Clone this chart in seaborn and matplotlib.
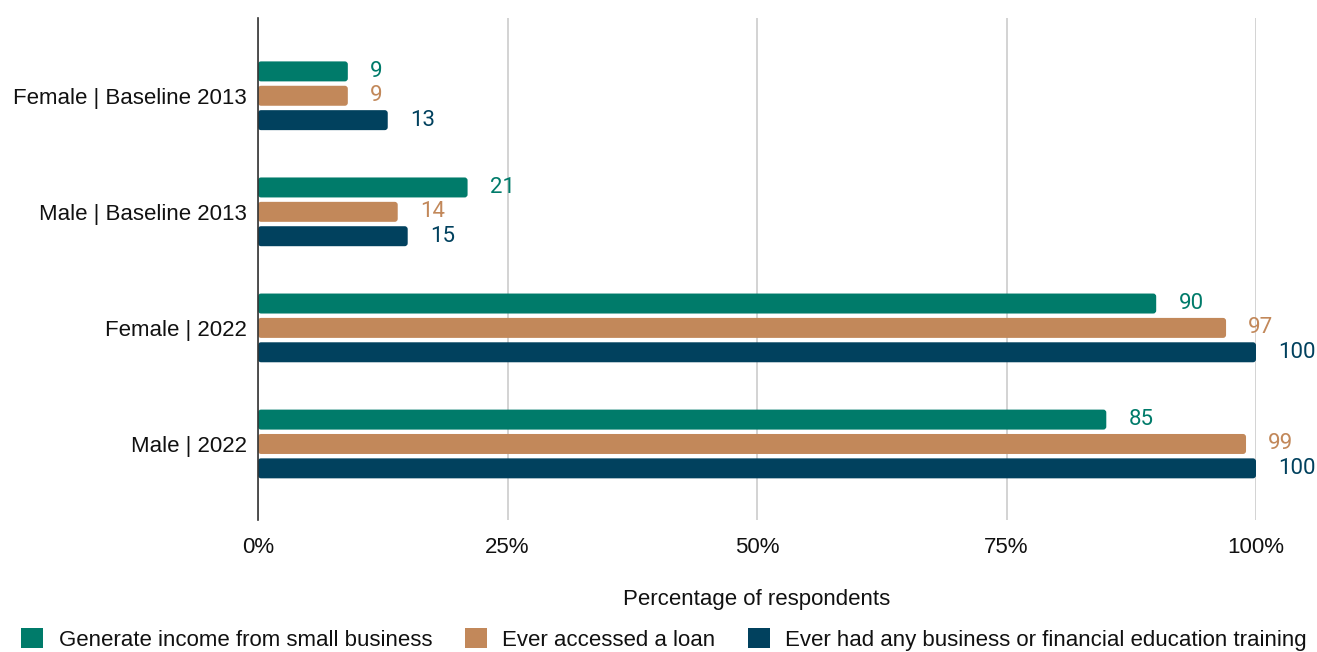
import matplotlib
matplotlib.use("Agg")
import matplotlib.pyplot as plt
from matplotlib.patches import FancyBboxPatch, Patch
import seaborn as sns
import pandas as pd

groups = ["Female | Baseline 2013", "Male | Baseline 2013", "Female | 2022", "Male | 2022"]
series = ["Generate income from small business", "Ever accessed a loan",
          "Ever had any business or financial education training"]
income = [9, 21, 90, 85]
loan = [9, 14, 97, 99]
training = [13, 15, 100, 100]
colors = ["#007B6A", "#C2885A", "#01415E"]
xticks = [0, 25, 50, 75, 100]
xticklabels = ["0%", "25%", "50%", "75%", "100%"]

rows = []
for name, vals in zip(series, [income, loan, training]):
    for g, v in zip(groups, vals):
        rows.append({"group": g, "series": name, "value": v})
df = pd.DataFrame(rows)

sns.set_theme(style="white")
plt.rcParams["font.family"] = ["Liberation Sans", "DejaVu Sans"]
plt.rcParams["text.color"] = "#111111"
plt.rcParams["xtick.color"] = "#111111"
plt.rcParams["ytick.color"] = "#111111"
plt.rcParams["axes.labelcolor"] = "#111111"

fig = plt.figure(figsize=(13.17, 6.52), dpi=100)
ax = fig.add_axes([258 / 1317, 1 - 520 / 652, 998 / 1317, 502 / 652])

sns.barplot(data=df, x="value", y="group", hue="series", order=groups,
            hue_order=series, palette=colors, orient="h", width=0.63, gap=0.18,
            saturation=1, legend=False, ax=ax)

# Swap the plain rectangles for rounded ones
for container, col in zip(ax.containers, colors):
    for rect in container:
        x, y = rect.get_xy()
        w, h = rect.get_width(), rect.get_height()
        rect.set_visible(False)
        rr = FancyBboxPatch((x, y), w, h,
                            boxstyle="round,pad=0,rounding_size=0.3",
                            mutation_aspect=0.086, facecolor=col,
                            edgecolor="none", zorder=3)
        ax.add_patch(rr)
    ax.bar_label(container, labels=[f"{v:g}" for v in container.datavalues],
                 padding=16, color=col, fontsize=16, family="Roboto")

ax.set_xlim(0, 100)
ax.set_ylim(3.655, -0.67)
ax.set_xticks(xticks)
ax.set_xticklabels(xticklabels, fontsize=16)
ax.tick_params(axis="y", labelsize=16, length=0, pad=8)
ax.tick_params(axis="x", length=0, pad=12)
ax.set_ylabel("")
ax.set_xlabel("Percentage of respondents", fontsize=16, labelpad=22.5)
ax.grid(axis="x", color="#CCCCCC", linewidth=1.2, zorder=0)
ax.set_axisbelow(True)
for s in ["top", "right", "bottom"]:
    ax.spines[s].set_visible(False)
ax.spines["left"].set_color("#333333")
ax.spines["left"].set_linewidth(1.2)
ax.spines["left"].set_zorder(4)

handles = [Patch(facecolor=c, edgecolor="none") for c in colors]
fig.legend(handles, series, loc="lower left", bbox_to_anchor=(0.016, 0.002),
           ncol=3, frameon=False, fontsize=16, handlelength=1.0, handleheight=1.0,
           handletextpad=0.7, columnspacing=1.45, borderaxespad=0, borderpad=0)

fig.savefig("out.png", dpi=100)
